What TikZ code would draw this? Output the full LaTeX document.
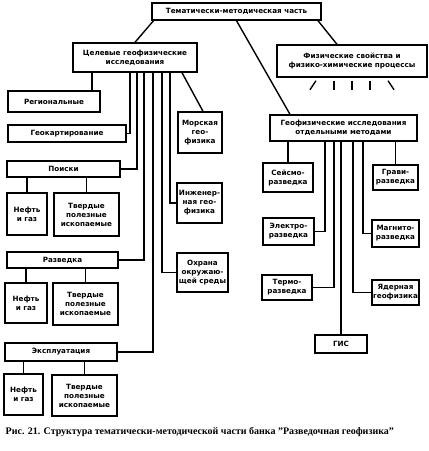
\documentclass[tikz,border=0pt]{standalone}
\usepackage{fontspec}
\setmainfont{Liberation Serif}
\newfontfamily\blokfont{DejaVu Sans}

\begin{document}
\begin{tikzpicture}[x=1pt, y=-1pt, line width=1.4pt,
  blok/.style={draw, fill=white, align=center, inner sep=0pt,
    font=\blokfont\bfseries\fontsize{7.2}{9}\selectfont},
  razmer/.style 2 args={minimum width=#1pt, minimum height=#2pt}]
  \useasboundingbox[fill=white] (0,0) rectangle (429,451);

  % ---- 1) Верхний уровень ----
  \node[blok, razmer={169}{17}] (tema) at (236.5,11.5) {Тематически-методическая часть};
  \node[blok, razmer={124}{29}] (celev) at (135,57.5) {Целевые геофизические\\исследования};
  \node[blok, razmer={150}{32}] (fiz) at (352,61) {Физические свойства и\\физико-химические процессы};
  \node[blok, razmer={147}{26}] (geof) at (343.5,128) {Геофизические исследования\\отдельными методами};

  \draw ([xshift=-83pt]tema.south) -- (celev.north);
  \draw ([xshift=81.5pt]tema.south) -- ([xshift=-15pt]fiz.north);
  \draw (tema.south) -- ([xshift=-53.5pt]geof.north);

  % лучи под блоком свойств
  \foreach \dx/\nx in {-36/-6, -18/0, 0/0, 18/0, 36/6}
    \draw ([xshift=\dx pt, yshift=-3pt]fiz.south) -- ++(\nx,9);

  % ---- 2) Целевые исследования ----
  \node[blok, razmer={92}{21}] (region) at (54,101.5) {Региональные};
  \node[blok, razmer={118}{17}] (geokart) at (67,133.5) {Геокартирование};
  \node[blok, razmer={113}{16}] (poiski) at (63.5,169) {Поиски};
  \node[blok, razmer={111}{16}] (razv) at (62.5,260) {Разведка};
  \node[blok, razmer={112}{18}] (ekspl) at (61,352) {Эксплуатация};
  \node[blok, razmer={44}{41}] (morsk) at (200,132.5) {Морская\\гео-\\физика};
  \node[blok, razmer={45}{40}] (inzh) at (199.5,203) {Инженер-\\ная гео-\\физика};
  \node[blok, razmer={51}{39}] (ohrana) at (202.5,272.5) {Охрана\\окружаю-\\щей среды};

  \draw ([xshift=-43pt]celev.south) -- ([xshift=38pt]region.north);
  \draw ([xshift=-5pt]celev.south) |- (geokart.east);
  \draw ([xshift=2pt]celev.south) |- (poiski.east);
  \draw ([xshift=9pt]celev.south) |- (razv.east);
  \draw ([xshift=18pt]celev.south) |- (ekspl.east);
  \draw ([xshift=27pt]celev.south) |- (ohrana.west);
  \draw ([xshift=35pt]celev.south) |- (inzh.west);
  \draw ([xshift=47pt]celev.south) -- ([xshift=3pt]morsk.north);

  % поиски, разведка, эксплуатация
  \node[blok, razmer={40}{42}] (neft1) at (27,214) {Нефть\\и газ};
  \node[blok, razmer={65}{43}] (tverd1) at (86.5,214.5) {Твердые\\полезные\\ископаемые};
  \node[blok, razmer={42}{40}] (neft2) at (26,303) {Нефть\\и газ};
  \node[blok, razmer={65}{42}] (tverd2) at (85.5,304) {Твердые\\полезные\\ископаемые};
  \node[blok, razmer={39}{41}] (neft3) at (23.5,394.5) {Нефть\\и газ};
  \node[blok, razmer={65}{41}] (tverd3) at (84.5,395.5) {Твердые\\полезные\\ископаемые};

  \draw (neft1.north |- poiski.south) -- (neft1.north);
  \draw (tverd1.north |- poiski.south) -- (tverd1.north);
  \draw (neft2.north |- razv.south) -- (neft2.north);
  \draw (tverd2.north |- razv.south) -- (tverd2.north);
  \draw (neft3.north |- ekspl.south) -- (neft3.north);
  \draw (tverd3.north |- ekspl.south) -- (tverd3.north);

  % ---- 3) Отдельные методы ----
  \node[blok, razmer={50}{29}] (seism) at (288,177.5) {Сейсмо-\\разведка};
  \node[blok, razmer={45}{25}] (grav) at (395.5,177.5) {Грави-\\разведка};
  \node[blok, razmer={51}{27}] (elektro) at (288.5,231.5) {Электро-\\разведка};
  \node[blok, razmer={47}{27}] (magnito) at (395.5,233.5) {Магнито-\\разведка};
  \node[blok, razmer={50}{25}] (termo) at (287,287.5) {Термо-\\разведка};
  \node[blok, razmer={47}{25}] (yader) at (395.5,292.5) {Ядерная\\геофизика};
  \node[blok, razmer={52}{18}] (gis) at (341,344) {ГИС};

  \draw ([xshift=-55.5pt]geof.south) -- (seism.north);
  \draw ([xshift=52pt]geof.south) -- (grav.north);
  \draw ([xshift=-18.5pt]geof.south) |- (elektro.east);
  \draw ([xshift=-9.5pt]geof.south) |- (termo.east);
  \draw (gis.north |- geof.south) -- (gis.north);
  \draw ([xshift=9.5pt]geof.south) |- (yader.west);
  \draw ([xshift=19.5pt]geof.south) |- (magnito.west);

  \node[anchor=west, inner sep=0pt, font=\bfseries\fontsize{10}{12}\selectfont] (podpis) at (5,432)
    {Рис. 21. Структура тематически-методической части банка "Разведочная геофизика"};
\end{tikzpicture}
\end{document}
